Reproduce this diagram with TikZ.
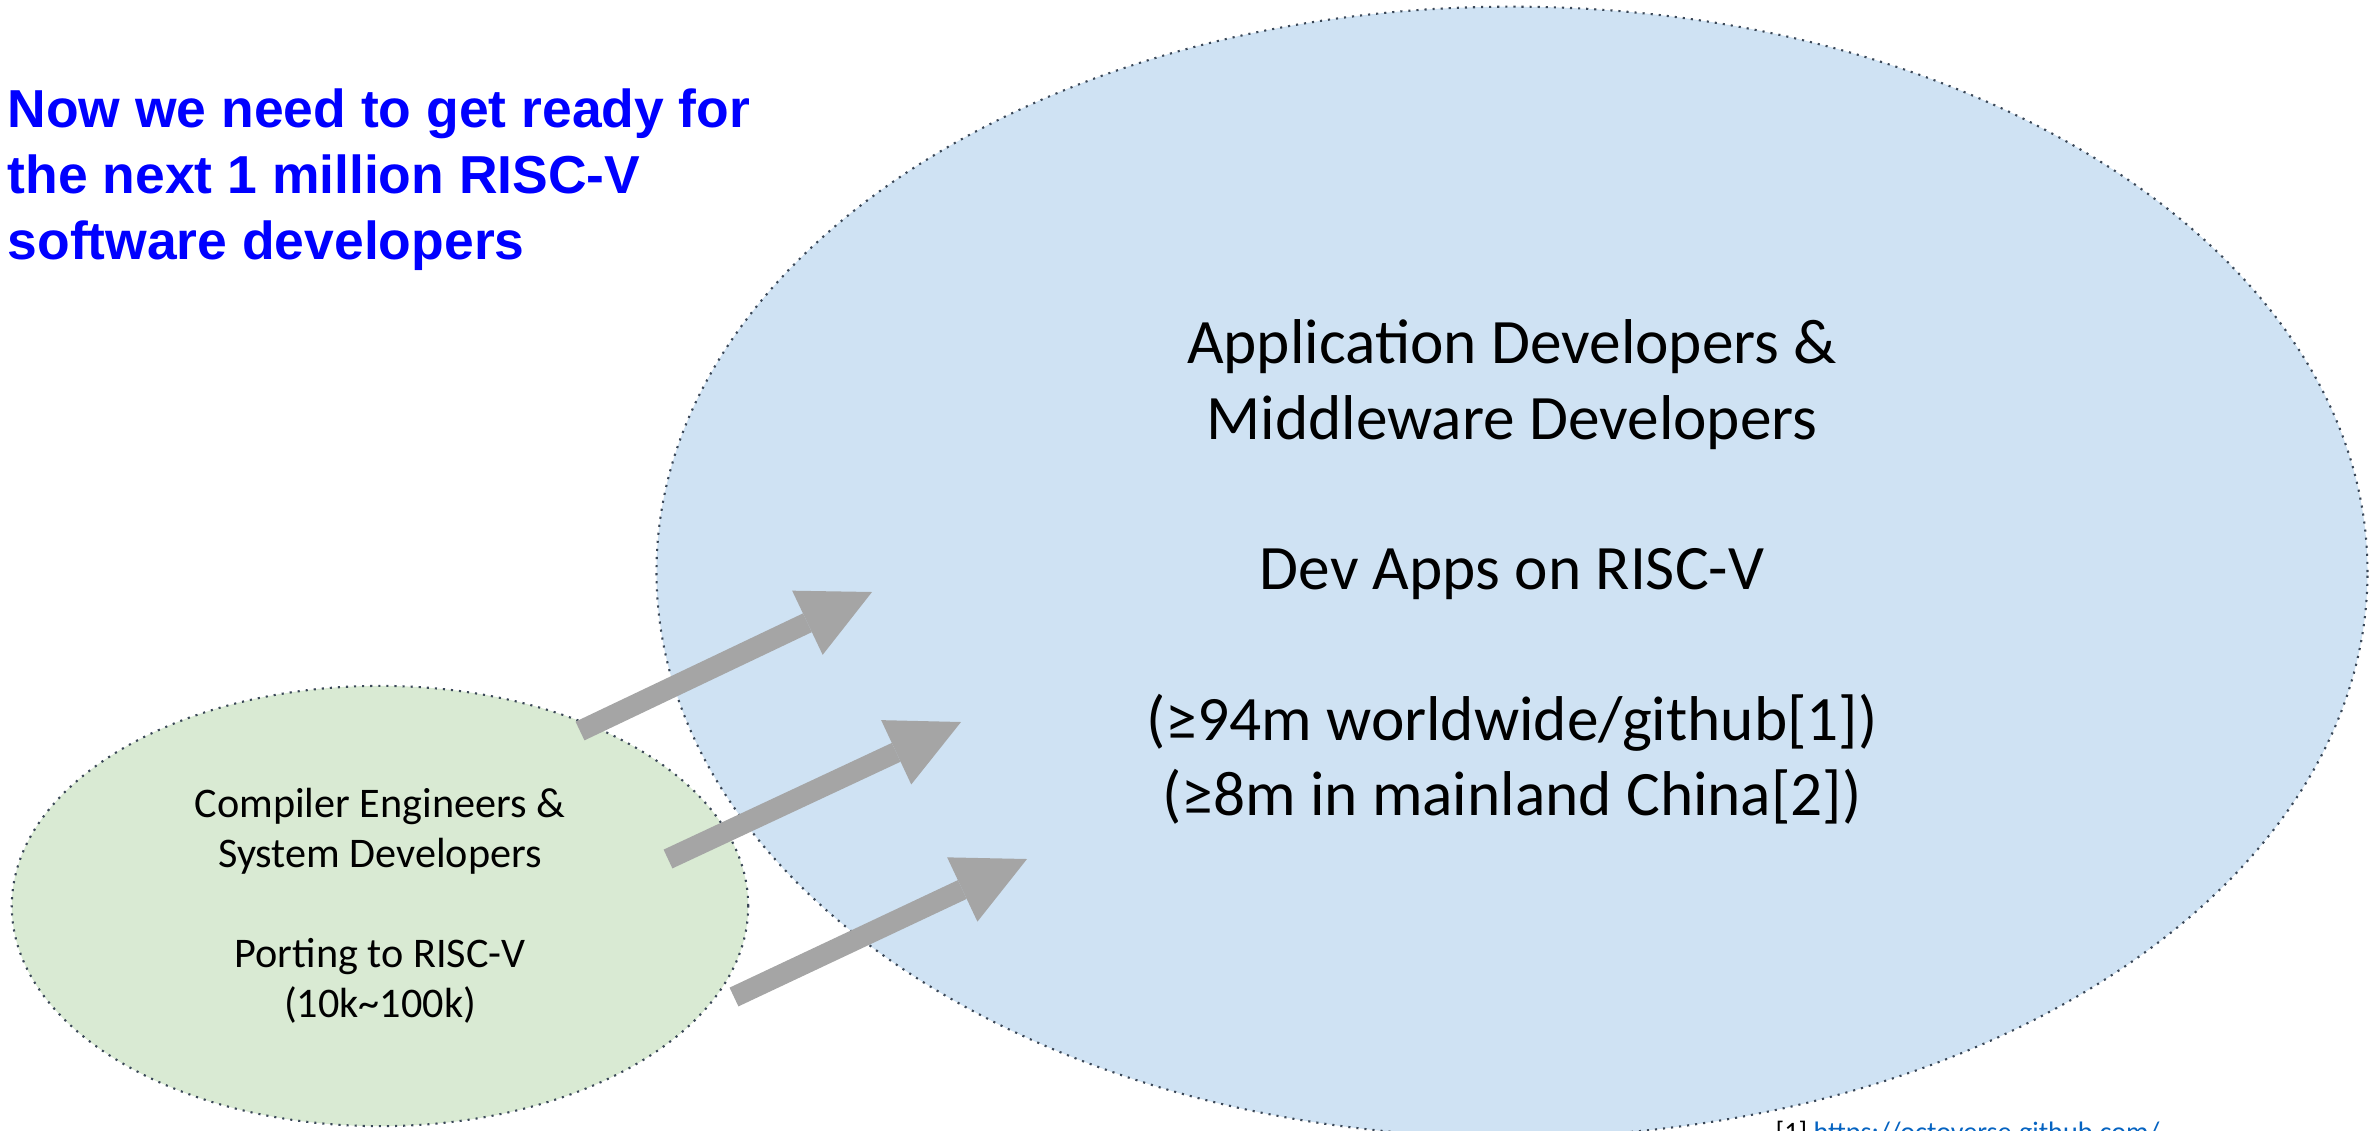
\documentclass[tikz,border=0pt]{standalone}
\usepackage{fontspec}
\setmainfont{Carlito}
\newfontfamily\headfont{Liberation Sans}
\usetikzlibrary{shapes.geometric,arrows.meta,positioning}
\definecolor{appblue}{HTML}{CFE2F3}
\definecolor{sysgreen}{HTML}{D9EAD3}
\definecolor{arrowgray}{HTML}{A5A5A5}
\definecolor{dotline}{HTML}{3A4757}
\definecolor{linkblue}{HTML}{0563C1}
\tikzset{
  group/.style={
    shape = ellipse,
    draw = dotline,
    line width = 0.6pt,
    dash pattern = on 0.6pt off 1.7pt,
    inner sep = 0pt,
    align = center
  },
  push/.style={
    draw = arrowgray,
    line width = 5.9pt,
    -{Triangle[width=0.71cm,length=0.715cm,line width=0pt]}
  },
}
\tikzset{
  headline/.style={
    anchor = north west,
    inner sep = 0pt,
    align = left,
    text = blue,
    font = \headfont\bfseries\fontsize{15.2}{18.8}\selectfont
  },
  note/.style={
    anchor = base west,
    inner sep = 0pt,
    font = \fontsize{8}{9.6}\selectfont
  }
}
\begin{document}
\begin{tikzpicture}[x=0.01cm,y=-0.01cm]
  \useasboundingbox (0,0) rectangle (2379,1130);
  \node[group,fill=appblue,minimum width=17.1cm,minimum height=11.3cm,
    font=\fontsize{18}{21.4}\selectfont] (appdev) at (1512,572)
    {Application Developers \&\\Middleware Developers\\[21.4pt]Dev Apps on RISC-V\\[21.4pt](≥94m worldwide/github[1])\\(≥8m in mainland China[2])};
  \node[group,fill=sysgreen,minimum width=7.36cm,minimum height=4.4cm,
    font=\fontsize{12}{14.2}\selectfont] (sysdev) at (380,906)
    {Compiler Engineers \&\\System Developers\\[14.2pt]Porting to RISC-V\\(10k\textasciitilde100k)};
  \node[headline] (title) at (7,88) {Now we need to get ready for\\the next 1 million RISC-V\\software developers};
  \node[note] (ref1) at (1775,1141) {[1] \textcolor{linkblue}{https://octoverse.github.com/}};
  \foreach \n/\a/\b/\c/\d in {1/580/731/872/592, 2/668/859/961/722, 3/734/997/1027/859}{
    \coordinate (s\n) at (\a,\b);
    \coordinate (e\n) at (\c,\d);
    \draw[push] (s\n) -- (e\n);
  }
\end{tikzpicture}
\end{document}
